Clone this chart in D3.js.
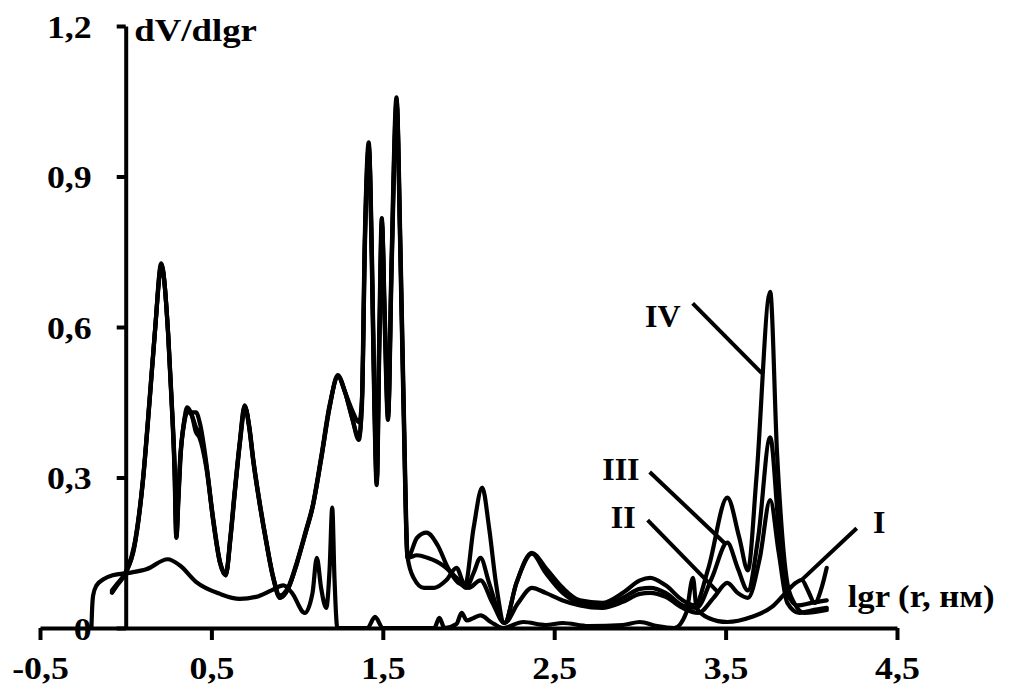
<!DOCTYPE html>
<html>
<head>
<meta charset="utf-8">
<script src="https://cdn.jsdelivr.net/npm/d3@7/dist/d3.min.js"></script>
<style>
  body { margin: 0; background: #fff; }
  svg { display: block; }
  text { font-family: "Liberation Serif", "Times New Roman", serif; font-weight: bold; fill: #000; }
</style>
</head>
<body>
<svg id="chart" width="1012" height="695"></svg>
<script>
// Axis ticks
const xTicks = [-0.5, 0.5, 1.5, 2.5, 3.5, 4.5];
const yTicks = [0, 0.3, 0.6, 0.9, 1.2];

// Pore size distributions dV/dlgr versus lgr, samples I–IV
const seriesI = [
  [-0.2, 0], [-0.197, 0.03], [-0.19, 0.065], [-0.17, 0.085], [-0.13, 0.097], [-0.076, 0.105],
  [0.02, 0.11], [0.12, 0.117], [0.245, 0.137], [0.315, 0.125], [0.41, 0.092], [0.55, 0.068],
  [0.665, 0.058], [0.76, 0.062], [0.85, 0.075], [0.92, 0.085], [0.97, 0.07], [1.045, 0.03],
  [1.09, 0.07], [1.115, 0.14], [1.14, 0.08], [1.17, 0.04], [1.19, 0.12], [1.205, 0.24],
  [1.218, 0.1], [1.235, 0], [1.41, 0], [1.455, 0.022], [1.5, 0], [1.8, 0], [1.83, 0.02],
  [1.86, 0], [1.93, 0.008], [1.96, 0.03], [1.99, 0.015], [2.03, 0.02], [2.07, 0.025],
  [2.13, 0.012], [2.2, 0], [2.32, 0.012], [2.45, 0.006], [2.55, 0.01], [2.7, 0.004],
  [2.9, 0.006], [3.0, 0.012], [3.1, 0.004], [3.2, 0], [3.27, 0.03], [3.31, 0.1], [3.33, 0.04],
  [3.4, 0.02], [3.51, 0.012], [3.65, 0.022], [3.77, 0.042], [3.85, 0.07], [3.91, 0.09],
  [3.944, 0.096], [3.98, 0.075], [4.02, 0.05], [4.06, 0.08], [4.09, 0.12]
];

const seriesII = [
  [-0.08, 0.075], [-0.05, 0.088], [0, 0.112], [0.05, 0.165], [0.1, 0.295], [0.14, 0.46],
  [0.17, 0.59], [0.209, 0.72], [0.249, 0.58], [0.269, 0.45], [0.286, 0.32], [0.297, 0.185],
  [0.307, 0.25], [0.319, 0.335], [0.34, 0.41], [0.362, 0.435], [0.39, 0.42], [0.41, 0.40],
  [0.435, 0.385], [0.472, 0.32], [0.512, 0.215], [0.552, 0.13], [0.585, 0.108], [0.612, 0.18],
  [0.637, 0.27], [0.667, 0.37], [0.696, 0.44], [0.722, 0.40], [0.745, 0.335], [0.782, 0.25],
  [0.822, 0.17], [0.862, 0.1], [0.9, 0.065], [0.95, 0.083], [1.0, 0.133], [1.05, 0.193],
  [1.09, 0.243], [1.14, 0.34], [1.19, 0.445], [1.24, 0.5], [1.28, 0.47], [1.32, 0.435],
  [1.362, 0.41], [1.379, 0.46], [1.397, 0.78], [1.42, 0.95], [1.437, 0.74], [1.452, 0.45],
  [1.466, 0.3], [1.48, 0.56], [1.496, 0.8], [1.512, 0.62], [1.532, 0.43], [1.552, 0.72],
  [1.582, 1.04], [1.602, 0.78], [1.622, 0.45], [1.645, 0.14], [1.68, 0.1], [1.74, 0.08],
  [1.8, 0.08], [1.87, 0.095], [1.93, 0.12], [1.97, 0.09], [2.0, 0.08], [2.07, 0.095],
  [2.14, 0.05], [2.21, 0.01], [2.29, 0.05], [2.37, 0.08], [2.45, 0.07], [2.55, 0.055],
  [2.65, 0.045], [2.78, 0.04], [2.9, 0.052], [3.0, 0.068], [3.06, 0.07], [3.15, 0.062],
  [3.25, 0.04], [3.34, 0.03], [3.43, 0.06], [3.51, 0.09], [3.57, 0.07], [3.63, 0.06],
  [3.7, 0.14], [3.76, 0.255], [3.81, 0.15], [3.86, 0.05], [3.93, 0.03], [4.0, 0.035], [4.09, 0.04]
];

const seriesIII = [
  [-0.08, 0.072], [-0.05, 0.086], [0, 0.11], [0.05, 0.162], [0.1, 0.292], [0.14, 0.456],
  [0.17, 0.588], [0.208, 0.724], [0.248, 0.585], [0.268, 0.452], [0.285, 0.32], [0.296, 0.18],
  [0.306, 0.25], [0.318, 0.335], [0.34, 0.405], [0.36, 0.43], [0.385, 0.43], [0.41, 0.43],
  [0.435, 0.405], [0.47, 0.33], [0.51, 0.215], [0.55, 0.13], [0.584, 0.105], [0.611, 0.18],
  [0.636, 0.27], [0.666, 0.37], [0.695, 0.442], [0.721, 0.40], [0.744, 0.335], [0.781, 0.25],
  [0.821, 0.17], [0.861, 0.1], [0.9, 0.06], [0.95, 0.08], [1.0, 0.13], [1.05, 0.19],
  [1.09, 0.24], [1.14, 0.337], [1.19, 0.442], [1.238, 0.502], [1.28, 0.47], [1.32, 0.42],
  [1.36, 0.38], [1.378, 0.44], [1.396, 0.78], [1.419, 0.96], [1.436, 0.74], [1.451, 0.45],
  [1.465, 0.29], [1.479, 0.56], [1.495, 0.81], [1.511, 0.62], [1.531, 0.42], [1.551, 0.72],
  [1.581, 1.05], [1.601, 0.78], [1.621, 0.45], [1.645, 0.14], [1.7, 0.145], [1.76, 0.14],
  [1.85, 0.125], [1.93, 0.1], [1.985, 0.08], [2.03, 0.11], [2.07, 0.14], [2.12, 0.09],
  [2.21, 0.01], [2.28, 0.09], [2.37, 0.148], [2.45, 0.11], [2.55, 0.07], [2.65, 0.05],
  [2.78, 0.045], [2.9, 0.06], [3.0, 0.078], [3.06, 0.08], [3.15, 0.07], [3.25, 0.045],
  [3.33, 0.04], [3.42, 0.1], [3.51, 0.17], [3.57, 0.12], [3.63, 0.075], [3.69, 0.18],
  [3.76, 0.38], [3.81, 0.2], [3.86, 0.07], [3.92, 0.045], [4.0, 0.05], [4.09, 0.055]
];

const seriesIV = [
  [-0.08, 0.07], [-0.05, 0.085], [0, 0.11], [0.05, 0.16], [0.1, 0.29], [0.14, 0.454],
  [0.17, 0.587], [0.207, 0.727], [0.247, 0.587], [0.267, 0.454], [0.284, 0.32], [0.295, 0.18],
  [0.305, 0.25], [0.317, 0.335], [0.34, 0.41], [0.358, 0.44], [0.385, 0.425], [0.41, 0.39],
  [0.43, 0.38], [0.47, 0.32], [0.51, 0.215], [0.55, 0.13], [0.583, 0.105], [0.61, 0.18],
  [0.635, 0.27], [0.665, 0.37], [0.694, 0.444], [0.72, 0.40], [0.743, 0.335], [0.78, 0.25],
  [0.82, 0.17], [0.86, 0.1], [0.9, 0.06], [0.95, 0.08], [1.0, 0.13], [1.05, 0.19],
  [1.09, 0.24], [1.14, 0.335], [1.19, 0.44], [1.237, 0.504], [1.28, 0.47], [1.32, 0.42],
  [1.36, 0.375], [1.377, 0.44], [1.395, 0.78], [1.418, 0.968], [1.435, 0.74], [1.45, 0.45],
  [1.464, 0.285], [1.478, 0.56], [1.494, 0.817], [1.51, 0.62], [1.53, 0.415], [1.55, 0.72],
  [1.58, 1.058], [1.6, 0.78], [1.62, 0.45], [1.645, 0.14], [1.7, 0.18], [1.755, 0.19],
  [1.82, 0.165], [1.88, 0.12], [1.94, 0.09], [1.98, 0.085], [2.03, 0.2], [2.08, 0.28],
  [2.12, 0.2], [2.16, 0.09], [2.21, 0.01], [2.28, 0.09], [2.37, 0.15], [2.45, 0.12],
  [2.55, 0.08], [2.65, 0.055], [2.78, 0.05], [2.9, 0.07], [3.0, 0.095], [3.06, 0.1],
  [3.15, 0.085], [3.25, 0.055], [3.32, 0.045], [3.4, 0.12], [3.51, 0.26], [3.58, 0.18],
  [3.63, 0.115], [3.68, 0.3], [3.76, 0.67], [3.8, 0.35], [3.86, 0.09], [3.9, 0.05],
  [3.96, 0.03], [4.09, 0.036]
];

const seriesNames = ["I", "II", "III", "IV"];
const seriesData = [seriesI, seriesII, seriesIII, seriesIV];

// Curve labels: text anchor and leader line, in data units
const labelText = ["IV", "III", "II", "I"];
const labelPos = [[3.03, 0.6], [2.78, 0.295], [2.83, 0.2], [4.36, 0.19]];
const leaderFrom = [[3.308, 0.647], [3.057, 0.311], [3.045, 0.215], [4.265, 0.199]];
const leaderTo = [[3.711, 0.508], [3.495, 0.169], [3.454, 0.072], [3.944, 0.096]];

const svg = d3.select("#chart");
const x = d3.scaleLinear().domain([-0.5, 4.5]).range([40, 897]);
const y = d3.scaleLinear().domain([0, 1.2]).range([628, 26]);
// Decimal comma and a plain hyphen for negatives
const fmt = v => (v === 0 ? "0" : d3.format(".1f")(v).replace(".", ",").replace("\u2212", "-"));

// Curves
const line = d3.line()
  .x(d => x(d[0]))
  .y(d => y(d[1]))
  .curve(d3.curveMonotoneX);

svg.append("g")
  .selectAll("path")
  .data(seriesData)
  .join("path")
  .attr("d", line)
  .attr("fill", "none")
  .attr("stroke", "#000")
  .attr("stroke-width", 4.2)
  .attr("stroke-linejoin", "round")
  .attr("stroke-linecap", "round");

// X axis along y = 0
const gx = svg.append("g")
  .attr("transform", `translate(0,${y(0)})`)
  .call(d3.axisBottom(x).tickValues(xTicks).tickSize(12).tickSizeOuter(0).tickFormat(fmt));
gx.select(".domain").attr("stroke", "#000").attr("stroke-width", 4);
gx.selectAll(".tick line").attr("stroke", "#000").attr("stroke-width", 4);
gx.selectAll(".tick text")
  .attr("y", 0).attr("dy", 0)
  .attr("transform", "translate(0,51) scale(1.12,1)")
  .attr("font-size", 32)
  .attr("fill", "#000");

// Y axis at x = 0
const gy = svg.append("g")
  .attr("transform", `translate(${x(0)},0)`)
  .call(d3.axisLeft(y).tickValues(yTicks).tickSize(9).tickSizeOuter(0).tickFormat(fmt));
gy.select(".domain").attr("stroke", "#000").attr("stroke-width", 4);
gy.selectAll(".tick line").attr("stroke", "#000").attr("stroke-width", 4);
gy.selectAll(".tick text")
  .attr("x", 0).attr("dy", 0)
  .attr("transform", "translate(-34,11) scale(1.12,1)")
  .attr("font-size", 32)
  .attr("fill", "#000");
svg.selectAll(".tick text")
  .style("font-family", '"Liberation Serif", "Times New Roman", serif')
  .style("font-weight", "bold");

// Axis titles
svg.append("text")
  .attr("transform", `translate(${x(0.05)},${y(1.17)}) scale(1.15,1)`)
  .attr("font-size", 32)
  .text("dV/dlgr");
svg.append("text")
  .attr("transform", `translate(${x(4.212)},${y(0.042)}) scale(1.12,1)`)
  .attr("font-size", 31)
  .text("lgr (r, нм)");

// Curve labels with leader lines
svg.append("g")
  .selectAll("line")
  .data(leaderFrom)
  .join("line")
  .attr("x1", d => x(d[0])).attr("y1", d => y(d[1]))
  .attr("x2", (d, i) => x(leaderTo[i][0])).attr("y2", (d, i) => y(leaderTo[i][1]))
  .attr("stroke", "#000")
  .attr("stroke-width", 4);

svg.append("g")
  .selectAll("text")
  .data(labelText)
  .join("text")
  .attr("x", (d, i) => x(labelPos[i][0]))
  .attr("y", (d, i) => y(labelPos[i][1]))
  .attr("font-size", 32)
  .text(d => d);
</script>
</body>
</html>
